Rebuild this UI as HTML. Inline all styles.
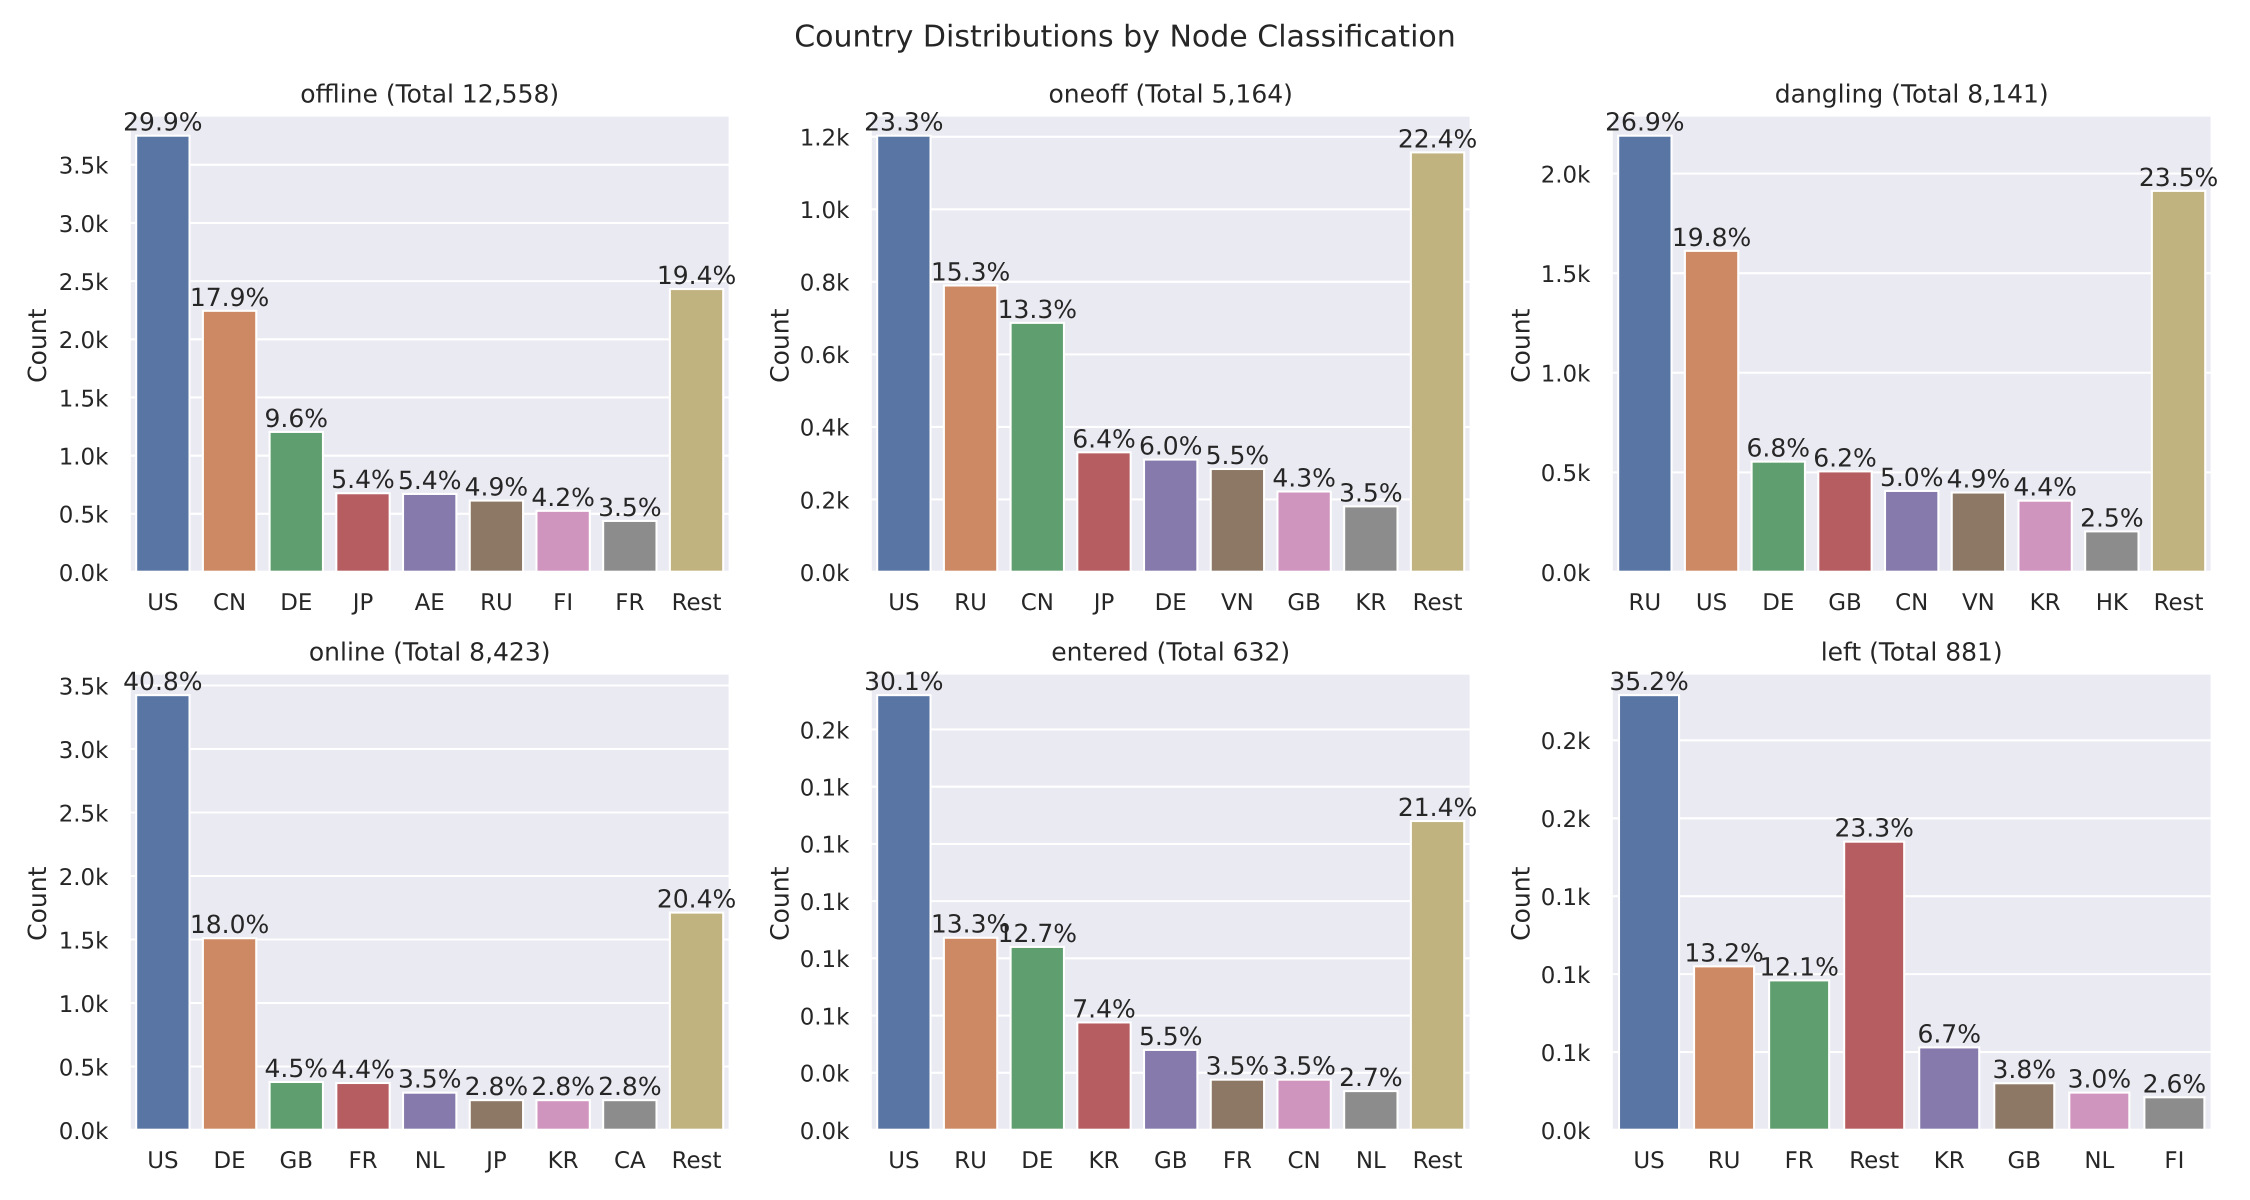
<!DOCTYPE html>
<html lang="en">
<head>
<meta charset="utf-8">
<title>Country Distributions by Node Classification</title>
<style>
html,body{margin:0;padding:0;background:#fff;width:2250px;height:1200px;overflow:hidden}
svg{display:block}
text{font-family:"DejaVu Sans","Liberation Sans",sans-serif;fill:#262626;text-rendering:geometricPrecision}
</style>
</head>
<body>
<svg id="figure" xmlns="http://www.w3.org/2000/svg" width="2250" height="1200" viewBox="0 0 2250 1200">
  <rect x="0" y="0" width="2250" height="1200" fill="#ffffff"/>
  <text x="1125" y="46.7" font-size="30" text-anchor="middle">Country Distributions by Node Classification</text>
</svg>
<script>
const palette = ['#5975A4', '#CC8963', '#5F9E6E', '#B55D60', '#857AAB', '#8D7866', '#D095BF', '#8C8C8C', '#C1B37F'];

const offlineCategories = ['US', 'CN', 'DE', 'JP', 'AE', 'RU', 'FI', 'FR', 'Rest'];
const offlineCounts = [3750, 2245, 1204, 677, 671, 614, 526, 439, 2432];
const offlinePercents = ['29.9%', '17.9%', '9.6%', '5.4%', '5.4%', '4.9%', '4.2%', '3.5%', '19.4%'];
const offlineTicks = [0, 500, 1000, 1500, 2000, 2500, 3000, 3500];
const offlineTickLabels = ['0.0k', '0.5k', '1.0k', '1.5k', '2.0k', '2.5k', '3.0k', '3.5k'];

const oneoffCategories = ['US', 'RU', 'CN', 'JP', 'DE', 'VN', 'GB', 'KR', 'Rest'];
const oneoffCounts = [1203, 790, 687, 330, 310, 284, 222, 181, 1157];
const oneoffPercents = ['23.3%', '15.3%', '13.3%', '6.4%', '6.0%', '5.5%', '4.3%', '3.5%', '22.4%'];
const oneoffTicks = [0, 200, 400, 600, 800, 1000, 1200];
const oneoffTickLabels = ['0.0k', '0.2k', '0.4k', '0.6k', '0.8k', '1.0k', '1.2k'];

const danglingCategories = ['RU', 'US', 'DE', 'GB', 'CN', 'VN', 'KR', 'HK', 'Rest'];
const danglingCounts = [2190, 1612, 554, 505, 407, 399, 358, 204, 1913];
const danglingPercents = ['26.9%', '19.8%', '6.8%', '6.2%', '5.0%', '4.9%', '4.4%', '2.5%', '23.5%'];
const danglingTicks = [0, 500, 1000, 1500, 2000];
const danglingTickLabels = ['0.0k', '0.5k', '1.0k', '1.5k', '2.0k'];

const onlineCategories = ['US', 'DE', 'GB', 'FR', 'NL', 'JP', 'KR', 'CA', 'Rest'];
const onlineCounts = [3424, 1510, 378, 370, 294, 235, 235, 235, 1712];
const onlinePercents = ['40.8%', '18.0%', '4.5%', '4.4%', '3.5%', '2.8%', '2.8%', '2.8%', '20.4%'];
const onlineTicks = [0, 500, 1000, 1500, 2000, 2500, 3000, 3500];
const onlineTickLabels = ['0.0k', '0.5k', '1.0k', '1.5k', '2.0k', '2.5k', '3.0k', '3.5k'];

const enteredCategories = ['US', 'RU', 'DE', 'KR', 'GB', 'FR', 'CN', 'NL', 'Rest'];
const enteredCounts = [190, 84, 80, 47, 35, 22, 22, 17, 135];
const enteredPercents = ['30.1%', '13.3%', '12.7%', '7.4%', '5.5%', '3.5%', '3.5%', '2.7%', '21.4%'];
const enteredTicks = [0, 25, 50, 75, 100, 125, 150, 175];
const enteredTickLabels = ['0.0k', '0.0k', '0.1k', '0.1k', '0.1k', '0.1k', '0.1k', '0.2k'];

const leftCategories = ['US', 'RU', 'FR', 'Rest', 'KR', 'GB', 'NL', 'FI'];
const leftCounts = [279, 105, 96, 185, 53, 30, 24, 21];
const leftPercents = ['35.2%', '13.2%', '12.1%', '23.3%', '6.7%', '3.8%', '3.0%', '2.6%'];
const leftTicks = [0, 50, 100, 150, 200, 250];
const leftTickLabels = ['0.0k', '0.1k', '0.1k', '0.1k', '0.2k', '0.2k'];

const panelTitles = ['offline (Total 12,558)', 'oneoff (Total 5,164)', 'dangling (Total 8,141)', 'online (Total 8,423)', 'entered (Total 632)', 'left (Total 881)'];
const panelKeys = ['offline', 'oneoff', 'dangling', 'online', 'entered', 'left'];
const panelCategories = [offlineCategories, oneoffCategories, danglingCategories, onlineCategories, enteredCategories, leftCategories];
const panelCounts = [offlineCounts, oneoffCounts, danglingCounts, onlineCounts, enteredCounts, leftCounts];
const panelPercents = [offlinePercents, oneoffPercents, danglingPercents, onlinePercents, enteredPercents, leftPercents];
const panelTicks = [offlineTicks, oneoffTicks, danglingTicks, onlineTicks, enteredTicks, leftTicks];
const panelTickLabels = [offlineTickLabels, oneoffTickLabels, danglingTickLabels, onlineTickLabels, enteredTickLabels, leftTickLabels];
const panelHeadroom = [1.0465, 1.0465, 1.0465, 1.05, 1.05, 1.05];

const NS = 'http://www.w3.org/2000/svg';
const figure = document.getElementById('figure');
const AX_LEFT = 129.5, AX_STEP = 741, AX_W = 600.4;
const AX_BOTTOM = 572, ROW_STEP = 558, AX_H = 456.6;

function make(parent, tag, attrs, content) {
  const node = document.createElementNS(NS, tag);
  for (const k in attrs) node.setAttribute(k, attrs[k]);
  if (content !== undefined) node.textContent = content;
  parent.appendChild(node);
  return node;
}

panelKeys.forEach(function (key, p) {
  const cats = panelCategories[p];
  const counts = panelCounts[p];
  const pcts = panelPercents[p];
  const ticks = panelTicks[p];
  const tickLabels = panelTickLabels[p];

  const left = AX_LEFT + (p % 3) * AX_STEP;
  const bottom = AX_BOTTOM + Math.floor(p / 3) * ROW_STEP;
  const top = bottom - AX_H;

  const yMax = Math.max.apply(null, counts) * panelHeadroom[p];
  const yScale = function (v) { return bottom - (v / yMax) * AX_H; };
  const bandW = AX_W / cats.length;
  const xScale = function (i) { return left + (i + 0.5) * bandW; };

  const g = make(figure, 'g', {});
  
  

  const bg = make(g, 'rect', { x: left, y: top, width: AX_W, height: AX_H, fill: '#EAEAF2' });
  
  

  ticks.forEach(function (t, i) {
    const y = yScale(t);
    const line = make(g, 'line', { x1: left, x2: left + AX_W, y1: y, y2: y, stroke: '#ffffff', 'stroke-width': 2.08 });
    
    
    const label = make(g, 'text', { x: left - 21.1, y: y + 8.8, 'font-size': 22.92, 'text-anchor': 'end' }, tickLabels[i]);
    
    
  });

  counts.forEach(function (v, i) {
    const barW = bandW * 0.8;
    const y = yScale(v);
    const bar = make(g, 'rect', { x: xScale(i) - barW / 2, y: y, width: barW, height: bottom - y, fill: palette[i % palette.length], stroke: '#ffffff', 'stroke-width': 2.08 });
    
    
  });

  const frame = make(g, 'rect', { x: left, y: top, width: AX_W, height: AX_H, fill: 'none', stroke: '#ffffff', 'stroke-width': 2.6 });
  
  

  counts.forEach(function (v, i) {
    const pct = make(g, 'text', { x: xScale(i), y: yScale(v) - 5, 'font-size': 25, 'text-anchor': 'middle' }, pcts[i]);
    
    
    const cat = make(g, 'text', { x: xScale(i), y: bottom + 38, 'font-size': 22.92, 'text-anchor': 'middle' }, cats[i]);
    
    
  });

  const title = make(g, 'text', { x: left + AX_W / 2, y: top - 12.7, 'font-size': 25, 'text-anchor': 'middle' }, panelTitles[p]);
  
  

  const cx = left - (p % 3 === 0 ? 83.5 : 82), cy = (top + bottom) / 2 + 2;
  const yTitle = make(g, 'text', { x: cx, y: cy, 'font-size': 25, 'text-anchor': 'middle', transform: 'rotate(-90 ' + cx + ' ' + cy + ')' }, 'Count');
  
  
});
</script>
</body>
</html>
